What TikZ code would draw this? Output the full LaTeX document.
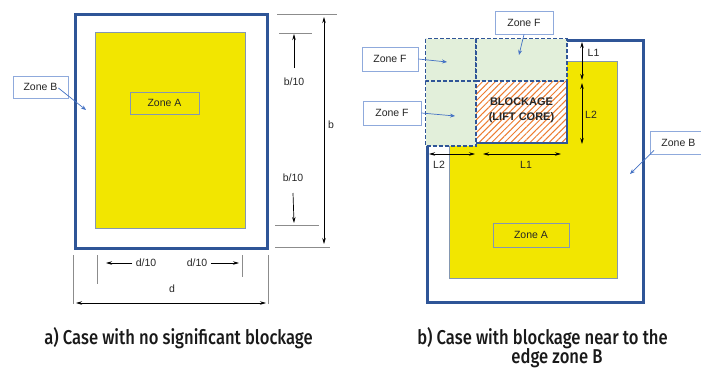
\documentclass[tikz,border=0pt]{standalone}
\usepackage{fontspec}
\setmainfont{Liberation Sans}
\newfontfamily\capfont[UprightFont=* Medium]{Fira Sans}
\usetikzlibrary{arrows.meta,patterns.meta,calc}

\definecolor{outerblue}{RGB}{47,85,151}
\definecolor{zoneyellow}{RGB}{242,230,0}
\definecolor{zonegreen}{RGB}{226,239,218}
\definecolor{boxblue}{RGB}{143,170,220}
\definecolor{linkblue}{RGB}{68,114,196}
\definecolor{boxgray}{RGB}{132,151,176}
\definecolor{hatchorange}{RGB}{237,125,49}

\tikzset{
  every node/.style={font=\fontsize{10.5}{12}\selectfont, text=black!85},
  zonebox/.style={draw=boxblue, fill=white, line width=0.8pt, minimum height=23pt, inner sep=0pt},
  areabox/.style={draw=boxgray, line width=0.8pt, minimum height=22pt, inner sep=0pt},
  zonelink/.style={draw=linkblue, line width=0.7pt, -{Stealth[length=5pt,width=4pt]}},
  dimline/.style={draw=black!45, line width=0.7pt},
  dimarrow/.style={line width=0.7pt, {Stealth[length=6pt,width=3.5pt]}-{Stealth[length=6pt,width=3.5pt]}},
  dimtip/.style={line width=0.7pt, -{Stealth[length=6pt,width=3.5pt]}},
  zonefcell/.style={fill=zonegreen, draw=outerblue, dash pattern=on 4pt off 2pt, line width=1.4pt},
  caption/.style={font=\capfont\fontsize{20}{24}\selectfont, text=black!90, anchor=base, inner sep=0pt}
}

\begin{document}
\begin{tikzpicture}[x=1pt,y=-1pt]
\useasboundingbox (0,0) rectangle (701,367);
\clip (0,0) rectangle (701,367);

% ---------- a) no significant blockage ----------
% Zone B (outer) and Zone A (inner)
\draw[outerblue, line width=3pt] (75.5,14) rectangle (267.5,248);
\draw[fill=zoneyellow, draw=boxgray, line width=0.8pt] (95,32) rectangle (245.5,228);

\node[areabox, minimum width=69pt] (zaL) at (164.5,103) {Zone A};
\node[zonebox, minimum width=55pt, minimum height=22pt] (zbL) at (40.5,87) {Zone B};
\coordinate (zbLtip) at (86,110);
\draw[zonelink] ($(zbL.east)+(-10,1)$) -- (zbLtip);

% vertical dimensions b and b/10
\draw[dimline] (277,14) -- (337,14);
\draw[dimline] (279,33) -- (312,33);
\draw[dimline] (275,225) -- (319,225);
\draw[dimline] (275,247) -- (330,247);
\coordinate (bTop) at (324,17);
\coordinate (bBot) at (324,244);
\draw[dimarrow] (bTop) -- (bBot);
\node (bLab) at (331,125) {b};

\node (btLab) at (294,82) {b/10};
\node (bbLab) at (293,178) {b/10};
\coordinate (btTip) at (294,34);
\coordinate (bbTip) at (294,223);
\draw[dimtip] (btLab.north |- 0,68) -- (btTip);
\draw[dimtip] (bbLab.south |- 0,193) -- (bbTip);

% horizontal dimensions d and d/10
\draw[dimline] (73,255) -- (73,304);
\draw[dimline] (268,255) -- (268,304);
\draw[dimline] (97,255) -- (97,284);
\draw[dimline] (242,255) -- (242,277);

\node (dlLab) at (146,263) {d/10};
\node (drLab) at (197,263) {d/10};
\coordinate (dlTip) at (106,263);
\coordinate (drTip) at (239,263);
\draw[dimtip] (dlLab.west) -- (dlTip);
\draw[dimtip] (drLab.east) -- (drTip);

\node (dLab) at (172,289) {d};
\coordinate (dLeft) at (76,303);
\coordinate (dRight) at (266,303);
\draw[dimarrow] (dLeft) -- (dRight);

% ---------- b) blockage near the edge ----------
% Zone B (outer) and Zone A
\draw[outerblue, line width=3pt] (427,40) rectangle (643,302);
\draw[fill=zoneyellow, draw=boxgray, line width=0.8pt] (449,61) rectangle (617,278);

% blockage (lift core)
\fill[white] (476,81) rectangle (567,143);
\fill[pattern={Lines[angle=45,distance=4.5pt,line width=1pt]}, pattern color=hatchorange] (476,81) rectangle (567,143);
\draw[outerblue, line width=1.2pt] (476,143) -- (567,143) -- (567,81);

% Zone F cells
\draw[zonefcell] (425.5,38.5) rectangle (476,81);
\draw[zonefcell] (476,38.5) rectangle (567,81);
\draw[zonefcell] (425.5,81) rectangle (476,146);

\node[font=\bfseries\fontsize{11}{15}\selectfont, align=center] (blk) at (521.5,110) {BLOCKAGE\\(LIFT CORE)};

% L1 / L2 dimensions
\coordinate (vL1a) at (582,42);
\coordinate (vL1b) at (582,80);
\coordinate (vL2a) at (582,83);
\coordinate (vL2b) at (582,144);
\coordinate (hL2a) at (429,154);
\coordinate (hL2b) at (475,154);
\coordinate (hL1a) at (483,154);
\coordinate (hL1b) at (561,154);
\draw[dimarrow] (vL1a) -- (vL1b);
\draw[dimarrow] (vL2a) -- (vL2b);
\draw[dimarrow] (hL2a) -- (hL2b);
\draw[dimarrow] (hL1a) -- (hL1b);
\node (vL1lab) at (593.5,53) {L1};
\node (vL2lab) at (591,115) {L2};
\node (hL2lab) at (439,165) {L2};
\node (hL1lab) at (526,165) {L1};

% zone labels
\node[areabox, minimum width=76pt, minimum height=24pt] (zaR) at (531,235) {Zone A};
\node[zonebox, minimum width=58pt] (zfT) at (524,22.5) {Zone F};
\node[zonebox, minimum width=56pt, minimum height=24pt] (zfL1) at (390,59) {Zone F};
\node[zonebox, minimum width=58pt, minimum height=24pt] (zfL2) at (392,113) {Zone F};
\node[zonebox, minimum width=56pt, anchor=west] (zbR) at (650,142.5) {Zone B};

\coordinate (zfTtip) at (519,55);
\coordinate (zfL1tip) at (447,62);
\coordinate (zfL2tip) at (455,116);
\coordinate (zbRtip) at (630,174);
\draw[zonelink] (zfT.south) -- (zfTtip);
\draw[zonelink] (zfL1.east) -- (zfL1tip);
\draw[zonelink] (zfL2.east) -- (zfL2tip);
\draw[zonelink] ($(zbR.south west)+(4,-4)$) -- (zbRtip);

% captions
\node[caption] (capA) at (178.5,344) {\scalebox{0.83}[1]{a) Case with no significant blockage}};
\node[caption] (capB) at (542.5,344) {\scalebox{0.83}[1]{b) Case with blockage near to the}};
\node[caption] (capBb) at (557,363) {\scalebox{0.83}[1]{edge zone B}};

\end{tikzpicture}
\end{document}
